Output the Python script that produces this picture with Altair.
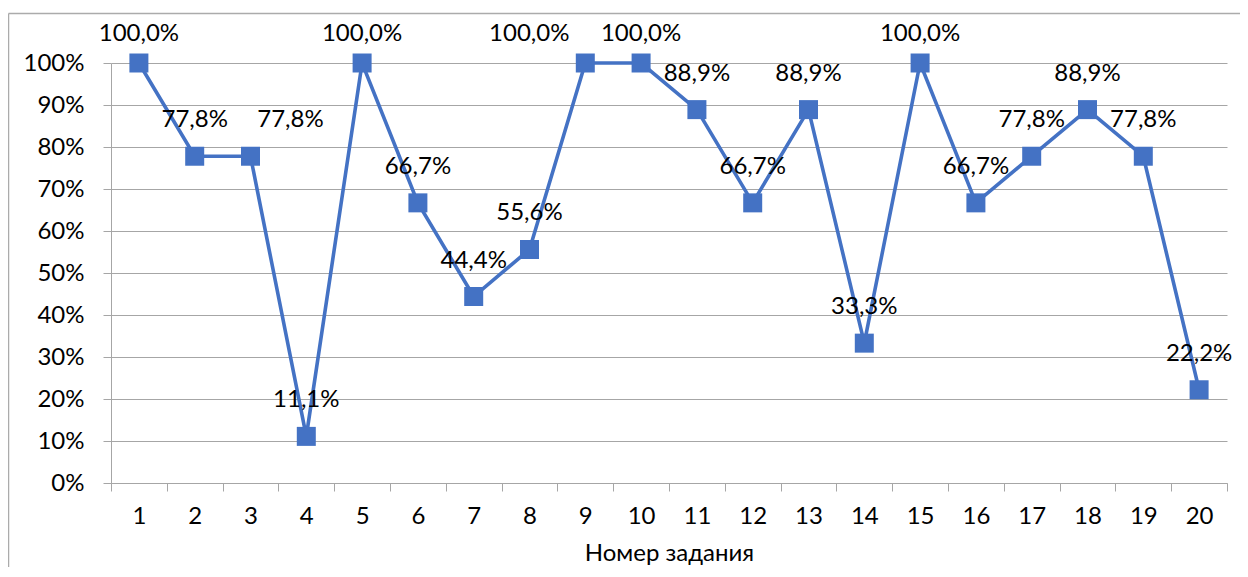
import altair as alt
import pandas as pd

tasks = [str(i) for i in range(1, 21)]
values = [100.0, 77.8, 77.8, 11.1, 100.0, 66.7, 44.4, 55.6, 100.0, 100.0,
          88.9, 66.7, 88.9, 33.3, 100.0, 66.7, 77.8, 88.9, 77.8, 22.2]
y_ticks = list(range(0, 101, 10))
x_title = "Номер задания"

df = pd.DataFrame({"task": tasks, "value": values})
df["label"] = [f"{v:.1f}%".replace(".", ",") for v in values]

FONT = "Lato"
GRID = "#A6A6A6"
BORDER = "#ABABAB"
BLUE = "#4472C4"
FS = 24

x = alt.X(
    "task:O", sort=tasks,
    scale=alt.Scale(type="band", paddingInner=0, paddingOuter=0),
    axis=alt.Axis(title=x_title, labelAngle=0, tickBand="extent", grid=False,
                  domainColor=GRID, tickColor=GRID, tickSize=8, labelPadding=13,
                  titlePadding=13, labelFontSize=FS, titleFontSize=FS,
                  titleFontWeight="normal"),
)
y = alt.Y(
    "value:Q", scale=alt.Scale(domain=[0, 100], nice=False),
    axis=alt.Axis(values=y_ticks, labelExpr="datum.value + '%'", title=None,
                  gridColor=GRID, domainColor=GRID, tickColor=GRID, tickSize=8,
                  labelPadding=19, labelFontSize=FS),
)

base = alt.Chart(df)
line = base.mark_line(color=BLUE, strokeWidth=3.6).encode(x=x, y=y)
pts = base.mark_point(shape="square", filled=True, size=361, color=BLUE, opacity=1).encode(x=x, y=y)


def text_layer(filt, dy, dx=0):
    return base.transform_filter(filt).mark_text(
        font=FONT, fontSize=FS, color="black", baseline="middle", dy=dy, dx=dx
    ).encode(x=x, y=y, text="label:N")


lab_a = text_layer("datum.value < 100 && datum.task != '3'", -36)
lab_b = text_layer("datum.task == '3'", -36, 40)
lab_c = text_layer("datum.value >= 100 && datum.task != '9'", -29)
lab_d = text_layer("datum.task == '9'", -29, -56)

frame_data = alt.Data(values=[{"k": 1}])
top_border = alt.Chart(frame_data).mark_rule(color=BORDER, strokeWidth=1.5).encode(
    x=alt.value(-102.5), x2=alt.value(1130), y=alt.value(-49.5))
left_border = alt.Chart(frame_data).mark_rule(color=BORDER, strokeWidth=1.5).encode(
    x=alt.value(-102.5), y=alt.value(-49.5), y2=alt.value(520))

chart = alt.layer(line, pts, lab_a, lab_b, lab_c, lab_d, top_border, left_border).properties(
    width=1116, height=420,
    padding={"left": 103, "top": 55, "right": 13, "bottom": 84},
    autosize=alt.AutoSizeParams(type="none"),
).configure_view(stroke=None).configure_axis(
    labelFont=FONT, titleFont=FONT, labelColor="black", titleColor="black"
)

chart.save("out.html", embed_options={"renderer": "svg", "actions": False})
